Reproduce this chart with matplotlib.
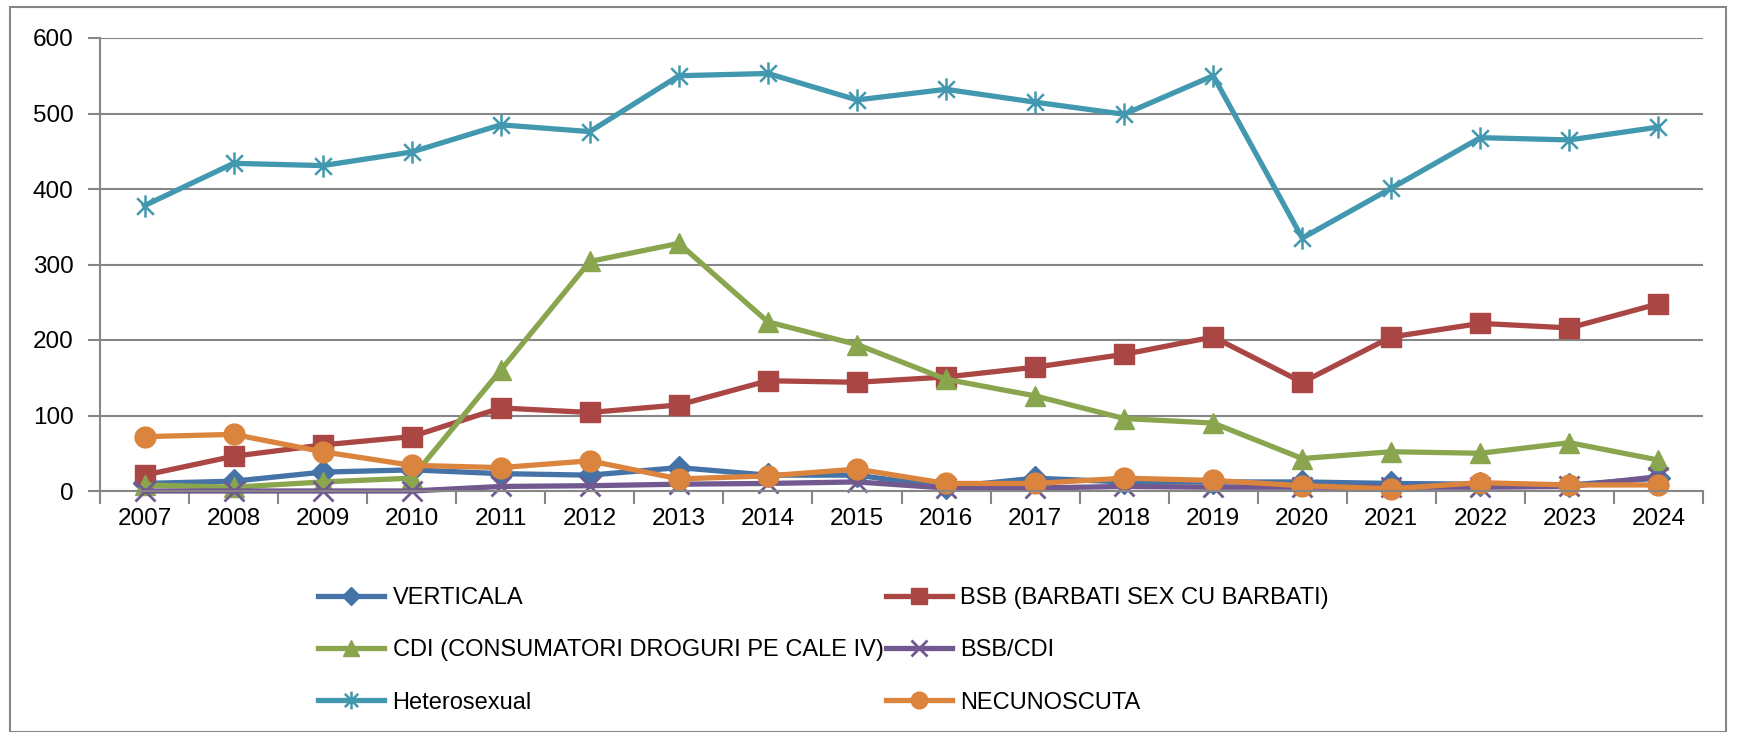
import numpy as np
import matplotlib
matplotlib.use('Agg')
import matplotlib.pyplot as plt
from matplotlib.path import Path
from matplotlib.patches import Rectangle

years = ['2007', '2008', '2009', '2010', '2011', '2012', '2013', '2014', '2015',
         '2016', '2017', '2018', '2019', '2020', '2021', '2022', '2023', '2024']

verticala = [10, 13, 25, 28, 23, 21, 31, 21, 21, 5, 17, 12, 12, 12, 10, 9, 8, 17]
bsb = [21, 46, 61, 72, 110, 104, 114, 146, 144, 151, 164, 181, 204, 144, 204, 222, 216, 248]
cdi = [8, 5, 12, 17, 160, 304, 328, 224, 194, 148, 126, 96, 90, 43, 52, 50, 64, 41]
bsb_cdi = [0, 0, 0, 0, 6, 7, 9, 10, 12, 4, 4, 6, 5, 5, 5, 5, 6, 19]
hetero = [378, 434, 431, 449, 485, 476, 550, 553, 518, 532, 515, 499, 550, 335, 401, 468, 465, 482]
necunoscuta = [72, 75, 52, 34, 31, 40, 16, 20, 29, 10, 10, 17, 14, 7, 3, 11, 8, 8]

plt.rcParams['font.family'] = ['Liberation Sans', 'DejaVu Sans']

# excel style asterisk: vertical bar plus an x
star = Path([(0, -1), (0, 1), (-0.75, -0.75), (0.75, 0.75), (-0.75, 0.75), (0.75, -0.75)],
            [Path.MOVETO, Path.LINETO, Path.MOVETO, Path.LINETO, Path.MOVETO, Path.LINETO])

fig = plt.figure(figsize=(17.38, 7.32), dpi=100)
ax = fig.add_axes([100 / 1738, 1 - 491 / 732, 1603 / 1738, 453 / 732])

x = np.arange(len(years))
lw = 3.8
series = [
    ('VERTICALA', verticala, '#4572A7', 'D', 12, dict()),
    ('BSB (BARBATI SEX CU BARBATI)', bsb, '#AA4643', 's', 14, dict()),
    ('CDI (CONSUMATORI DROGURI PE CALE IV)', cdi, '#89A54E', '^', 15, dict()),
    ('BSB/CDI', bsb_cdi, '#71588F', 'x', 14, dict(markeredgewidth=2.0)),
    ('Heterosexual', hetero, '#4198AF', star, 16, dict(markeredgewidth=1.8)),
    ('NECUNOSCUTA', necunoscuta, '#DB843D', 'o', 15, dict()),
]
lines = {}
for name, vals, col, mk, ms, kw in series:
    ln, = ax.plot(x, vals, color=col, lw=lw, marker=mk, markersize=ms,
                  markerfacecolor=col, markeredgecolor=col, label=name,
                  clip_on=False, **kw)
    lines[name] = ln

ax.set_xlim(-0.5, len(years) - 0.5)
ax.set_ylim(0, 600)
ax.set_yticks(range(0, 601, 100))
ax.set_xticks(np.arange(-0.5, len(years), 1.0))
ax.set_xticklabels([])
ax.set_xticks(x, minor=True)
ax.set_xticklabels(years, minor=True)
ax.tick_params(axis='x', which='major', length=9, width=1.5, color='#868686', direction='out')
ax.tick_params(axis='x', which='minor', length=0, labelsize=17.5, pad=12)
ax.tick_params(axis='y', length=9, width=1.5, color='#868686', direction='out', labelsize=17.5, pad=10)
ax.grid(axis='y', color='#868686', lw=1.5)
ax.set_axisbelow(True)
for s in ['top', 'right']:
    ax.spines[s].set_visible(False)
for s in ['left', 'bottom']:
    ax.spines[s].set_color('#868686')
    ax.spines[s].set_linewidth(1.5)

order = ['VERTICALA', 'CDI (CONSUMATORI DROGURI PE CALE IV)', 'Heterosexual',
         'BSB (BARBATI SEX CU BARBATI)', 'BSB/CDI', 'NECUNOSCUTA']
fig.legend([lines[n] for n in order], order, ncol=2, frameon=False,
           loc='upper left', bbox_to_anchor=(297 / 1738, 1 - 566 / 732),
           fontsize=17, handlelength=2.8, handletextpad=0.35, columnspacing=0.1,
           labelspacing=1.28, markerscale=0.8)

fig.patches.append(Rectangle((10 / 1738, 0), 1716 / 1738, 1 - 7 / 732,
                             transform=fig.transFigure, fill=False,
                             edgecolor='#868686', lw=1.5))

fig.savefig('out.png', dpi=100)
